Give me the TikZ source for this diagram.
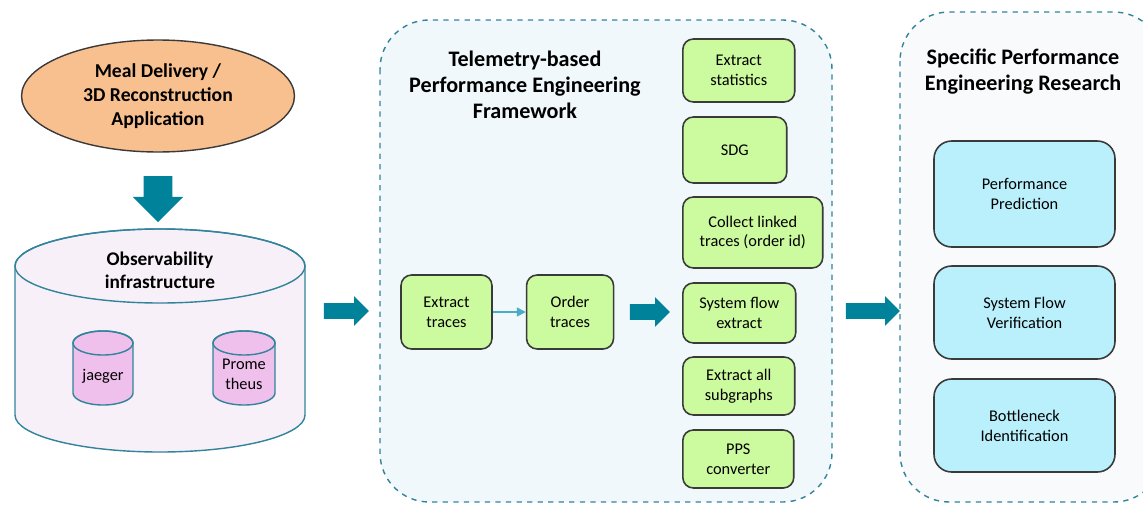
\documentclass[tikz,border=0pt]{standalone}
\usepackage{fontspec}
\setmainfont{Carlito}
\usetikzlibrary{shapes.geometric,shapes.arrows,arrows.meta,positioning}

\definecolor{teal1}{HTML}{00829B}
\definecolor{teal2}{HTML}{31849B}
\definecolor{thinblue}{HTML}{4BACC6}
\definecolor{appfill}{HTML}{F8C08F}
\definecolor{obsfill}{HTML}{F8F0F8}
\definecolor{dbfill}{HTML}{F0C0EC}
\definecolor{greenfill}{HTML}{CCFA9E}
\definecolor{bluefill}{HTML}{B9F0FC}
\definecolor{midbg}{HTML}{F0F8FC}
\definecolor{rightbg}{HTML}{F8FAFB}
\definecolor{boxline}{HTML}{3A3A3A}

\tikzset{
  txt/.style={font=\fontsize{9.3}{11.3}\selectfont, align=center},
  ttl/.style={font=\bfseries\fontsize{12.6}{14.7}\selectfont, align=center},
  green/.style={txt, draw=boxline, line width=0.9pt, fill=greenfill,
                rounded corners=6pt, inner sep=0pt},
  blue/.style={txt, draw=boxline, line width=0.9pt, fill=bluefill,
               rounded corners=10pt, inner sep=0pt, minimum width=3.62cm},
  frame/.style={draw=teal2, dashed, line width=0.8pt, rounded corners=28pt},
  drumline/.style={draw=teal2, line width=0.8pt},
  fat/.style={single arrow, fill=teal1, inner xsep=0pt, inner ysep=0.15cm,
              single arrow head extend=0.14cm, single arrow tip angle=90}
}

% cylinder: centre x, top y, bottom y, x radius, y radius, fill
\newcommand{\drum}[6]{%
  \filldraw[drumline, fill=#6] (#1-#4,#2) -- (#1-#4,#3)
    arc[start angle=180, end angle=0, x radius=#4, y radius=#5]
    -- (#1+#4,#2)
    arc[start angle=0, end angle=-180, x radius=#4, y radius=#5] -- cycle;
  \draw[drumline] (#1,#2) ellipse[x radius=#4, y radius=#5];}

\begin{document}
\begin{tikzpicture}[x=0.02cm, y=-0.02cm]
  \useasboundingbox (0,0) rectangle (1143,504);

  % application and observability
  \node[ellipse, draw=boxline, line width=0.8pt, fill=appfill, minimum width=5.46cm,
        minimum height=2.24cm, inner sep=0pt, ttl,
        font=\bfseries\fontsize{11.2}{13.6}\selectfont] (app) at (158,96)
        {Meal Delivery /\\3D Reconstruction\\Application};
  \node[fat, minimum height=0.92cm, inner ysep=0.28cm, single arrow head extend=0.22cm,
        rotate=-90] (down) at (158,192) {};

  \drum{160}{266}{415}{145}{37}{obsfill}
  \drum{103}{343}{393}{30}{12}{dbfill}
  \drum{244}{343}{393}{31}{12}{dbfill}
  \node[ttl, font=\bfseries\fontsize{11}{13.3}\selectfont] (obs) at (160,270)
        {Observability\\infrastructure};
  \node[txt] (jaeger) at (103,376) {jaeger};
  \node[txt] (prom) at (244,374) {Prome\\theus};

  \node[fat, minimum height=0.9cm] (arr1) at (342.5,311) {};

  % framework
  \draw[frame, fill=midbg] (380,20) rectangle (832,502);
  \node[ttl] (fwtitle) at (525,85) {Telemetry-based\\Performance Engineering\\Framework};

  \node[green, minimum width=1.82cm, minimum height=1.48cm] (ext) at (446.5,312)
        {Extract\\traces};
  \node[green, minimum width=1.74cm, minimum height=1.48cm, right=0.66cm of ext] (ord)
        {Order\\traces};
  \draw[thinblue, line width=0.8pt, -{Triangle[length=5pt,width=5pt]}] (ext) -- (ord);
  \node[fat, minimum height=0.8cm] (arr2) at (646,312) {};

  \node[green, anchor=west, minimum width=2.24cm, minimum height=1.26cm] (stats)
        at (682,70.5) {Extract\\statistics};
  \node[green, anchor=west, minimum width=2.08cm, minimum height=1.32cm] (sdg)
        at (682,150) {SDG};
  \node[green, anchor=west, minimum width=2.8cm, minimum height=1.42cm] (linked)
        at (682,232.5) {Collect linked\\traces (order id)};
  \node[green, anchor=west, minimum width=2.26cm, minimum height=1.2cm] (sysflow)
        at (682,313) {System flow\\extract};
  \node[green, anchor=west, minimum width=2.24cm, minimum height=1.16cm] (subg)
        at (682,386) {Extract all\\subgraphs};
  \node[green, anchor=west, minimum width=2.22cm, minimum height=1.16cm] (pps)
        at (682,459) {PPS\\converter};

  \node[fat, minimum height=1.08cm] (arr3) at (869,311) {};

  % research
  \draw[frame, fill=rightbg] (900,12) rectangle (1163,502);
  \node[ttl] (restitle) at (1023,72) {Specific Performance\\Engineering Research};
  \node[blue, minimum height=2.12cm] (pred) at (1024.5,194) {Performance\\Prediction};
  \node[blue, minimum height=1.86cm] (verif) at (1024.5,312.5) {System Flow\\Verification};
  \node[blue, minimum height=1.86cm] (bottle) at (1024.5,425.5) {Bottleneck\\Identification};
\end{tikzpicture}
\end{document}
